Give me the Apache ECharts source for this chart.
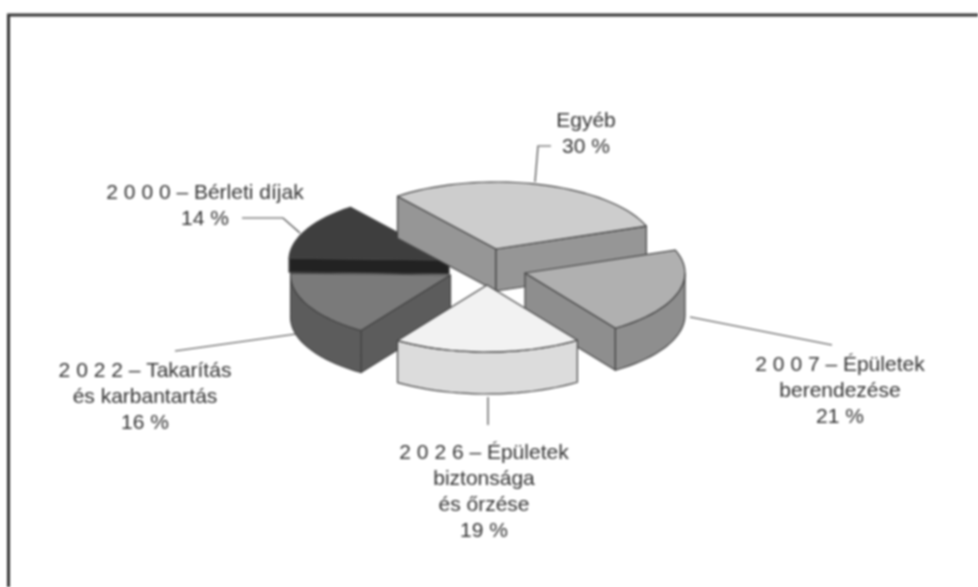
<!DOCTYPE html>
<html><head><meta charset="utf-8">
<style>html,body{margin:0;padding:0;background:#fff;overflow:hidden}
#c{width:978px;height:587px;filter:blur(0.9px)}</style>
<script src="https://cdn.jsdelivr.net/npm/echarts@6/dist/echarts.min.js"></script>
</head><body><div id="c"></div>
<script>
// data
var names = ['Egyéb','2 0 0 7 – Épületek\nberendezése','2 0 2 6 – Épületek\nbiztonsága\nés őrzése','2 0 2 2 – Takarítás\nés karbantartás','2 0 0 0 – Bérleti díjak'];
var values = [30,21,19,16,14];

// styles (index-aligned with values)
var topColors  = ['#cdcdcd','#b0b0b0','#f2f2f2','#7a7a7a','#3e3e3e'];
var wallColors = ['#969696','#8e8e8e','#dcdcdc','#5c5c5c','#222222'];
var apexes = [[496,249],[525,273],[487,285],[450.5,275],[449,260]];
var labelPos = [[586,134],[840,391],[484,492],[145,397],[205,206]];
var leaders = [
  [[551,146],[538,146],[535,182]],
  [[690,317],[832,345]],
  [[488,397],[488,425]],
  [[175,351],[296,334]],
  [[242,218],[283,218],[300,233]]
];
var startAngle = 128, RX = 160, RY = 67, DEPTH = 42;
var stroke = '#444444';

var total = values.reduce(function(a,b){return a+b;},0);

function arcPts(cx,cy,a0,a1,dz){
  var n = Math.max(2,Math.ceil(Math.abs(a1-a0)/3)), pts=[];
  for(var i=0;i<=n;i++){
    var a=(a0+(a1-a0)*i/n)*Math.PI/180;
    pts.push([cx+RX*Math.cos(a), cy-RY*Math.sin(a)+dz]);
  }
  return pts;
}
function poly(points,fill,z){
  return {type:'polygon',z2:z,shape:{points:points},
    style:{fill:fill,stroke:stroke,lineWidth:1.2,lineJoin:'round'}};
}
function cutFace(cx,cy,a,d,fill,z){
  var r=a*Math.PI/180, px=cx+RX*Math.cos(r), py=cy-RY*Math.sin(r);
  return poly([[cx,cy],[px,py],[px,py+d],[cx,cy+d]],fill,z);
}
function slice(i,a0,a1){
  var c=apexes[i],cx=c[0],cy=c[1],kids=[];
  var d=i===4?14:DEPTH;
  var top=[[cx,cy]].concat(arcPts(cx,cy,a0,a1,0));
  // only the faces turned towards the viewer are drawn
  if(Math.cos(a0*Math.PI/180)<0) kids.push(cutFace(cx,cy,a0,d,wallColors[i],1));
  if(Math.cos(a1*Math.PI/180)>0) kids.push(cutFace(cx,cy,a1,d,wallColors[i],1));
  var rim=arcPts(cx,cy,a0,a1,0).filter(function(p){return p[1]>=cy-1;});
  if(rim.length>1){
    var low=rim.map(function(p){return [p[0],p[1]+d];}).reverse();
    kids.push(poly(rim.concat(low),wallColors[i],2));
  }
  kids.push(poly(top,topColors[i],3));
  return kids;
}

var angles=[],cum=startAngle;
values.forEach(function(v){var a1=cum-v/total*360;angles.push([cum,a1]);cum=a1;});
var drawOrder=[4,0,1,3,2];

var chart=echarts.init(document.getElementById('c'),null,{renderer:'canvas'});
chart.setOption({
  animation:false,
  backgroundColor:'#ffffff',
  graphic:[
    {type:'polyline',shape:{points:[[8.5,587],[8.5,15],[978,15]]},style:{fill:'none',stroke:'#333333',lineWidth:3}}
  ],
  series:[{
    type:'custom',
    coordinateSystem:'none',
    data:values.map(function(v,i){return {value:[i,v],name:names[i]};}),
    renderItem:function(params,api){
      var i=api.value(0);
      var kids=slice(i,angles[i][0],angles[i][1]);
      var order=drawOrder.indexOf(i);
      kids.forEach(function(k){k.z2=order*10+k.z2;});
      kids.push({type:'polyline',z2:1,shape:{points:leaders[i]},style:{fill:'none',stroke:'#444',lineWidth:1.2}});
      kids.push({type:'text',z2:100,style:{
        x:labelPos[i][0],y:labelPos[i][1],
        text:names[i]+'\n'+api.value(1)+' %',
        fill:'#333',font:'21px "Liberation Sans"',lineHeight:26,
        align:'center',verticalAlign:'middle'}});
      return {type:'group',children:kids};
    }
  }]
});
</script></body></html>
